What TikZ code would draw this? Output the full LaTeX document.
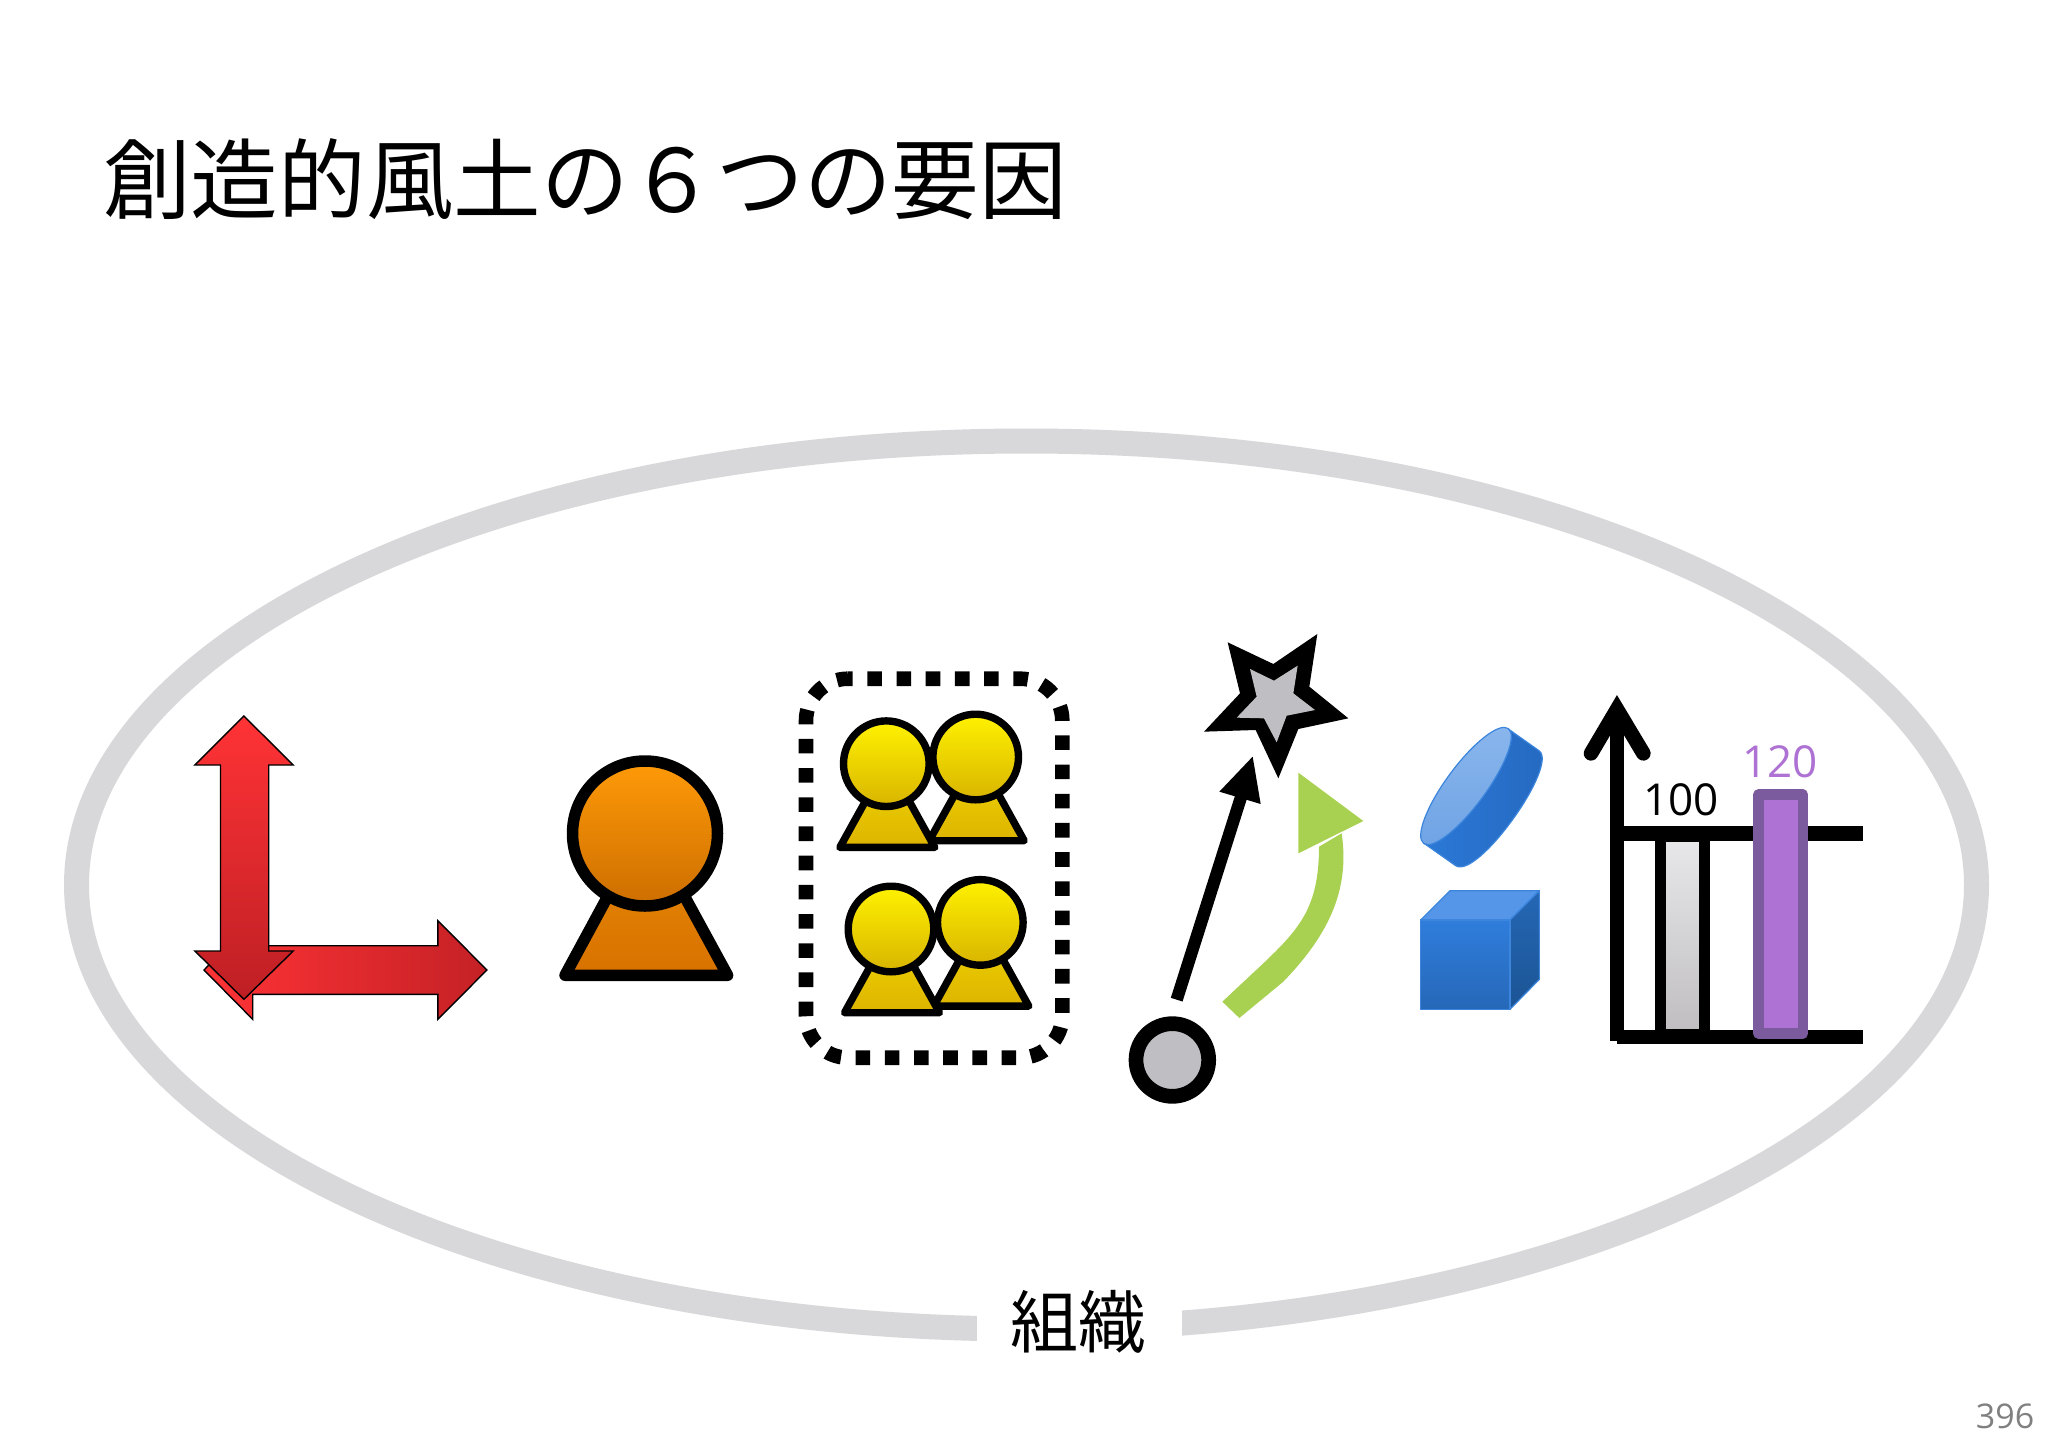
\documentclass[tikz,border=0pt]{standalone}
\usepackage{fontspec}
\newfontfamily\cjk{Noto Sans CJK JP}
\newfontfamily\latinf{Open Sans}
\definecolor{ringgray}{HTML}{D8D7DA}
\definecolor{redtop}{HTML}{FF3336}
\definecolor{redbot}{HTML}{BE1F24}
\definecolor{greenarrow}{HTML}{A9D151}
\definecolor{purplefill}{HTML}{AD72D3}
\definecolor{purpleline}{HTML}{7C5A9E}
\definecolor{stargray}{HTML}{BFBEC2}
\definecolor{orangeA}{HTML}{FF9A08}
\definecolor{orangeB}{HTML}{CC6E00}
\definecolor{orangeC}{HTML}{E88A05}
\definecolor{orangeD}{HTML}{D87200}
\definecolor{yellowA}{HTML}{FFF200}
\definecolor{yellowB}{HTML}{D8B400}
\definecolor{yellowC}{HTML}{F2D800}
\definecolor{yellowD}{HTML}{DDB400}
\definecolor{blueedge}{HTML}{3C85DC}
\definecolor{bluefrontA}{HTML}{2F7DDC}
\definecolor{bluefrontB}{HTML}{2668B8}
\definecolor{bluetop}{HTML}{5596E8}
\definecolor{bluesideA}{HTML}{2567B5}
\definecolor{bluesideB}{HTML}{1B5494}
\definecolor{bluebodyA}{HTML}{2B78D6}
\definecolor{bluebodyB}{HTML}{2568BF}
\definecolor{bluefaceA}{HTML}{8AB6EC}
\definecolor{bluefaceB}{HTML}{6FA3E5}
\definecolor{barA}{HTML}{E8E8EA}
\definecolor{barB}{HTML}{BFBDC0}
\tikzset{
  redarrow/.style={draw=black,line width=1.4pt,line join=miter},
  personline/.style={draw=black,line join=round,line cap=round},
  zoomthree/.style={shift={(#1)},scale=1/3},
  blueline/.style={draw=blueedge,line width=1.2pt,line join=round},
}
\newcommand{\yfigure}[2]{%
  \path[personline,line width=7.4pt,top color=yellowC,bottom color=yellowD]
    (#1-46.5,#2+83.7) -- (#1+48.5,#2+83.7) -- (#1+1,#2-2) -- cycle;
  \path[personline,line width=7.4pt,top color=yellowA,bottom color=yellowB]
    (#1,#2) circle[radius=42.8];
}
\begin{document}
\begin{tikzpicture}[x=1pt,y=-1pt]
\useasboundingbox (0,0) rectangle (2048,1448);
\fill[white] (0,0) rectangle (2048,1448);

% title
\node[anchor=west,inner sep=0pt,font=\cjk\fontsize{87.6}{88}\selectfont] (title) at (103,179) {創造的風土の６つの要因};

% organisation ring
\draw[ringgray,line width=25pt] (1026.5,885) ellipse[x radius=950,y radius=444];
\node[fill=white,inner sep=0pt,minimum width=205pt,minimum height=72pt] (soshikibg) at (1079.5,1324) {};
\node[inner sep=0pt,font=\cjk\fontsize{68}{68}\selectfont] (soshiki) at (1078,1322) {組織};

% red arrows
\path[redarrow,left color=redtop,right color=redbot!90!redtop]
  (204,970) -- (252.7,920.7) -- (252.7,945.7) -- (437.9,945.7) -- (437.9,920.7) -- (486.9,970)
  -- (437.9,1019.3) -- (437.9,994.3) -- (252.7,994.3) -- (252.7,1019.3) -- cycle;
\path[redarrow,top color=redtop,bottom color=redbot]
  (243.9,716) -- (293.2,765) -- (268.7,765) -- (268.7,951) -- (293.2,951) -- (243.9,999.3)
  -- (194.9,951) -- (220.5,951) -- (220.5,765) -- (194.9,765) -- cycle;

% orange person
\path[personline,line width=11.5pt,top color=orangeC,bottom color=orangeD]
  (565,975.3) -- (727.6,975.3) -- (646,825.7) -- cycle;
\path[personline,line width=11.5pt,top color=orangeA,bottom color=orangeB]
  (645,833.5) circle[radius=72.5];

% yellow group
\yfigure{975.7}{757}
\yfigure{886.3}{763.7}
\yfigure{980.3}{922.4}
\yfigure{891}{929}
\draw[line width=14.6pt,dash pattern=on 14.6pt off 14.6pt,dash phase=9.9pt,rounded corners=42pt,line cap=butt]
  (848,678.7) -- (1062.3,678.7) -- (1062.3,1057.7) -- (806,1057.7) -- (806,678.7) -- (848,678.7);

% star
\begin{scope}[zoomthree={1190,625}]
\fill[black] (113,52) -- (250,117) -- (382,27) -- (358,185) -- (475,280) -- (325,312)
  -- (265,460) -- (197,315) -- (42,320) -- (150,205) -- cycle;
\fill[stargray] (180,132) -- (252,167) -- (323,122) -- (310,205) -- (375,255) -- (290,272)
  -- (260,352) -- (222,280) -- (140,278) -- (200,215) -- cycle;
\end{scope}

% arrows and dot
\begin{scope}[zoomthree={1100,620}]
\draw[line width=12.3pt,line cap=butt] (230,1139) -- (425,525);
\fill[black] (458,410) -- (482,552) -- (358,515) -- cycle;
\fill[greenarrow] (367,1145) -- (490,1030) .. controls (600,925) and (657,860) .. (657,680)
  -- (725,640) .. controls (752,820) and (675,955) .. (550,1085) -- (418,1194) -- cycle;
\fill[greenarrow] (595,458) -- (790,603) -- (595,700) -- cycle;
\draw[line width=14.7pt,fill=stargray] (217,1320) circle[radius=109];
\end{scope}

% blue solids
\begin{scope}[zoomthree={1400,680}]
\path[blueline,left color=bluebodyA,right color=bluebodyB]
  (325,147) -- (417,212) .. controls (478,255) and (232,600) .. (167,557) -- (72,490) -- cycle;
\path[blueline,top color=bluefaceA,bottom color=bluefaceB,rotate around={53.6:(198,318)}]
  (198,318) ellipse[x radius=214,y radius=60];
\path[blueline,fill=bluetop]
  (62,720) -- (150,632) -- (418,632) -- (330,720) -- cycle;
\path[blueline,top color=bluesideA,bottom color=bluesideB]
  (330,720) -- (418,632) -- (418,898) -- (330,988) -- cycle;
\path[blueline,top color=bluefrontA,bottom color=bluefrontB]
  (62,720) rectangle (330,988);
\end{scope}

% chart
\begin{scope}[zoomthree={1400,680}]
\draw[line width=14.6pt,line cap=butt] (651,1082) -- (651,100);
\draw[line width=14.6pt,line cap=round,line join=miter] (573,220) -- (651,88) -- (730,220);
\draw[line width=14.6pt,line cap=butt] (651,461) -- (1388,461);
\draw[line width=14.6pt,line cap=butt] (650,1071) -- (1388,1071);
\path[draw=black,line width=11pt,top color=barA,bottom color=barB] (780.5,470) rectangle (913.5,1064);
\path[draw=purpleline,fill=purplefill,line width=10.5pt,line join=round] (1075.5,344) rectangle (1208.5,1060);
\node[inner sep=0pt,font=\latinf\fontsize{44}{44}\selectfont] (hundred) at (843,358) {100};
\node[inner sep=0pt,text=purplefill,font=\latinf\fontsize{44}{44}\selectfont] (onetwenty) at (1140,245) {120};
\end{scope}

% page number
\node[inner sep=0pt,text=black!50,font=\latinf\fontsize{34}{34}\selectfont] (pageno) at (2005,1416) {396};
\end{tikzpicture}
\end{document}
